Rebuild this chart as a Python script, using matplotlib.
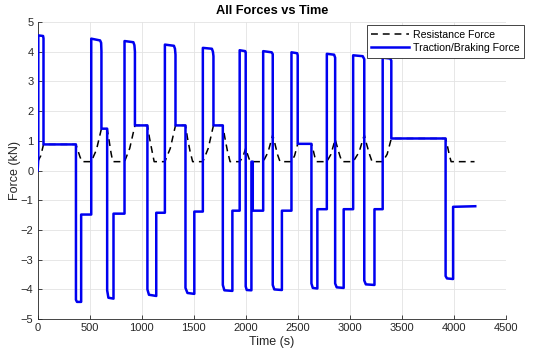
import matplotlib
matplotlib.use("Agg")
import matplotlib.pyplot as plt

# Resistance force breakpoints (time s, force kN)
res_t = [0, 30, 56, 368, 385, 405, 425,
         515, 565, 613, 668, 685, 705, 722,
         835, 885, 935, 1055, 1075, 1100, 1120,
         1223, 1275, 1325, 1421, 1440, 1465, 1490,
         1588, 1640, 1690, 1780, 1800, 1825, 1850,
         1942, 1972, 2000, 2015, 2030, 2045,
         2168, 2215, 2260, 2280, 2305, 2330,
         2440, 2470, 2500, 2632, 2648, 2665, 2680,
         2780, 2820, 2860, 2880, 2905, 2925,
         3033, 3090, 3140, 3160, 3190, 3215,
         3317, 3360, 3400, 3922, 3938, 3958, 3975, 4200]
res_f = [0.30, 0.50, 0.88, 0.88, 0.70, 0.48, 0.30,
         0.30, 0.70, 1.41, 1.41, 1.05, 0.60, 0.30,
         0.30, 0.75, 1.52, 1.52, 1.10, 0.65, 0.30,
         0.30, 0.75, 1.52, 1.52, 1.10, 0.65, 0.30,
         0.30, 0.75, 1.52, 1.52, 1.10, 0.65, 0.30,
         0.30, 0.45, 0.75, 0.58, 0.42, 0.30,
         0.30, 0.62, 1.20, 0.92, 0.55, 0.30,
         0.30, 0.50, 0.90, 0.90, 0.70, 0.45, 0.30,
         0.30, 0.55, 1.05, 0.80, 0.50, 0.30,
         0.30, 0.62, 1.20, 0.92, 0.55, 0.30,
         0.30, 0.55, 1.08, 1.08, 0.85, 0.52, 0.30, 0.30]

# Traction / braking force breakpoints (time s, force kN)
trac_t = [0, 6, 6, 52, 56, 56, 368, 368, 378, 418, 418,
          515, 515, 600, 610, 613, 613, 668, 668, 680, 729, 729,
          835, 835, 920, 930, 935, 935, 1055, 1055, 1070, 1140, 1140,
          1223, 1223, 1310, 1320, 1325, 1325, 1421, 1421, 1440, 1506, 1506,
          1588, 1588, 1675, 1685, 1690, 1690, 1780, 1780, 1795, 1872, 1872,
          1942, 1942, 1995, 2000, 2000, 2010, 2055, 2055, 2068, 2068,
          2168, 2168, 2250, 2260, 2260, 2275, 2348, 2348,
          2440, 2440, 2495, 2500, 2500, 2632, 2632, 2645, 2689, 2689,
          2780, 2780, 2850, 2860, 2860, 2875, 2942, 2942,
          3033, 3033, 3125, 3140, 3140, 3155, 3238, 3238,
          3317, 3317, 3390, 3400, 3400, 3922, 3922, 3935, 3994, 3994, 4207]
trac_f = [0.0, 0.4, 4.55, 4.53, 4.45, 0.88, 0.88, -4.35, -4.42, -4.42, -1.48,
          -1.48, 4.44, 4.38, 4.30, 4.02, 1.41, 1.41, -4.03, -4.28, -4.31, -1.45,
          -1.45, 4.36, 4.32, 4.22, 4.00, 1.52, 1.52, -4.00, -4.18, -4.22, -1.42,
          -1.42, 4.24, 4.20, 4.10, 3.90, 1.52, 1.52, -3.95, -4.12, -4.15, -1.38,
          -1.38, 4.13, 4.10, 4.00, 3.85, 1.52, 1.52, -3.85, -4.03, -4.05, -1.35,
          -1.35, 4.05, 4.02, 3.98, -3.90, -4.02, -4.03, 0.30, 0.30, -1.35,
          -1.35, 4.02, 3.98, 3.92, -3.85, -4.00, -4.02, -1.35,
          -1.35, 3.98, 3.95, 3.88, 0.90, 0.90, -3.80, -3.95, -3.97, -1.30,
          -1.30, 3.93, 3.90, 3.80, -3.80, -3.93, -3.95, -1.30,
          -1.30, 3.88, 3.85, 3.75, -3.70, -3.83, -3.85, -1.30,
          -1.30, 3.80, 3.77, 3.70, 1.08, 1.08, -3.55, -3.63, -3.65, -1.22, -1.20]

x_ticks = [0, 500, 1000, 1500, 2000, 2500, 3000, 3500, 4000, 4500]
y_ticks = [-5, -4, -3, -2, -1, 0, 1, 2, 3, 4, 5]

plt.rcParams['font.family'] = ['Liberation Sans', 'DejaVu Sans']
dark = '#262626'

fig = plt.figure(figsize=(5.5, 3.61), dpi=100)
ax = fig.add_axes([0.0685, 0.116, 0.851, 0.823])

ax.plot(res_t, res_f, color='black', lw=1.1, linestyle=(0, (4.5, 3.2)),
        label='Resistance Force', zorder=2)
ax.plot(trac_t, trac_f, color='#0000f0', lw=1.8, solid_joinstyle='round',
        label='Traction/Braking Force', zorder=3)

ax.set_xlim(0, 4500)
ax.set_ylim(-5, 5)
ax.set_xticks(x_ticks)
ax.set_yticks(y_ticks)
ax.grid(True, color='#e3e3e3', lw=0.6)
ax.set_axisbelow(True)
for s in ['top', 'right']:
    ax.spines[s].set_visible(False)
for s in ['left', 'bottom']:
    ax.spines[s].set_color(dark)
    ax.spines[s].set_linewidth(0.6)
ax.tick_params(direction='in', length=3, width=0.6, colors=dark, labelsize=8, pad=3)

ax.set_title('All Forces vs Time', fontsize=9.2, fontweight='bold', color='black', pad=6)
ax.set_xlabel('Time (s)', fontsize=9, color=dark, labelpad=2)
ax.set_ylabel('Force (kN)', fontsize=9, color=dark, labelpad=0)

leg = ax.legend(loc='upper right', bbox_to_anchor=(1.04, 0.99), fontsize=7.6,
                frameon=True, fancybox=False, framealpha=1, edgecolor=dark,
                handlelength=3.6, handletextpad=0.35, borderpad=0.45,
                labelspacing=0.32, borderaxespad=0)
leg.get_frame().set_linewidth(0.6)

fig.savefig('out.png', dpi=100)
